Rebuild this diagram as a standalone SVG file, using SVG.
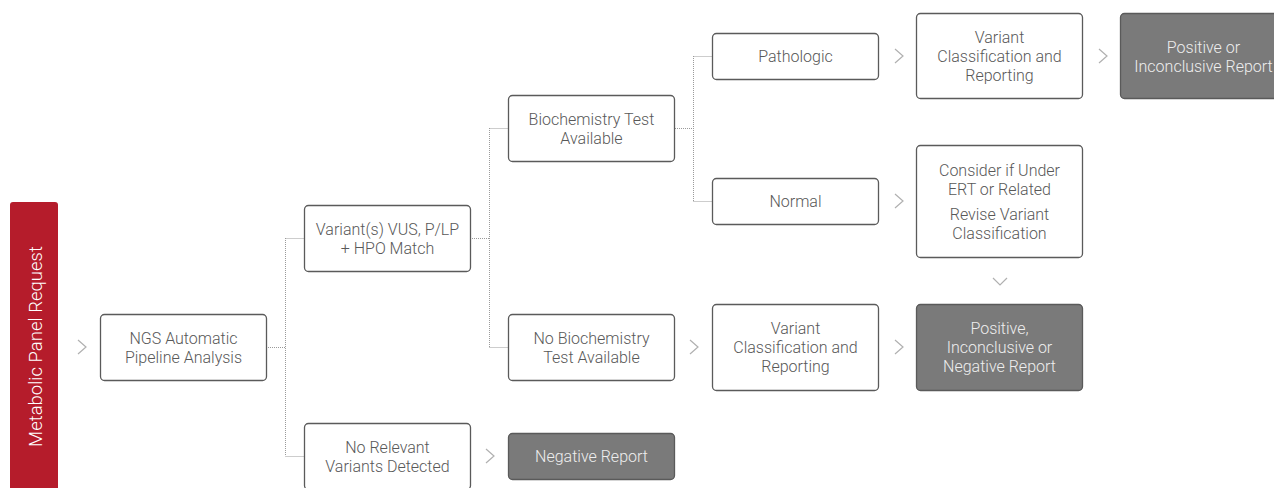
<svg xmlns="http://www.w3.org/2000/svg" width="1274" height="488" viewBox="0 0 1274 488">
<style>
.box{fill:#fff;stroke:#5a5a5a;stroke-width:1.3}
.dark{fill:#7a7a7a;stroke:#5a5a5a;stroke-width:1.3}
.t{font-family:Roboto,"Liberation Sans",sans-serif;font-weight:300;font-size:16px;fill:#585858;text-anchor:middle}
.tl{font-family:Roboto,"Liberation Sans",sans-serif;font-weight:300;font-size:16px;fill:#eee;text-anchor:middle}
.conn{fill:none;stroke:#9a9a9a;stroke-width:1;stroke-dasharray:1 1}
.chev{fill:none;stroke:#b0b0b0;stroke-width:1.2}
</style>
<rect width="1274" height="488" fill="#fff"/>
<g id="request">
<path d="M10 488 V205 a3 3 0 0 1 3 -3 H55 a3 3 0 0 1 3 3 V488 Z" fill="#b51c2b"/>
<text transform="translate(41.5 346.5) rotate(-90)" style="font-family:Roboto,'Liberation Sans',sans-serif;font-weight:300;font-size:18.5px;fill:#fff;text-anchor:middle">Metabolic Panel Request</text>
</g>
<g id="connectors">
<path class="conn" d="M266 347.5 H285.5 M285.5 238 V456 M285.5 238.5 H305 M285.5 456.5 H305"/>
<path class="conn" d="M470 238.5 H489.5 M489.5 128 V347 M489.5 128.5 H509 M489.5 347.5 H509"/>
<path class="conn" d="M675 128.5 H693.5 M693.5 56 V201 M693.5 56.5 H713 M693.5 201.5 H713"/>
<polyline class="chev" points="78,340 86,347 78,354"/>
<polyline class="chev" points="895,49 903,56 895,63"/>
<polyline class="chev" points="1099,49 1107,56 1099,63"/>
<polyline class="chev" points="895,194 903,201 895,208"/>
<polyline class="chev" points="993,278 1000,285 1007,278"/>
<polyline class="chev" points="690,340 698,347 690,354"/>
<polyline class="chev" points="895,340 903,347 895,354"/>
<polyline class="chev" points="486,449 494,456 486,463"/>
</g>
<g id="ngs">
<rect class="box" x="100.5" y="314.5" width="166" height="66" rx="4"/>
<text class="t" x="183.5" y="343.5">NGS Automatic</text>
<text class="t" x="183.5" y="362.5">Pipeline Analysis</text>
</g>
<g id="variants">
<rect class="box" x="304.5" y="205.5" width="166" height="66" rx="4"/>
<text class="t" x="387.5" y="234.5">Variant(s) VUS, P/LP</text>
<text class="t" x="387.5" y="253.5">+ HPO Match</text>
</g>
<g id="norelevant">
<rect class="box" x="304.5" y="423.5" width="166" height="66" rx="4"/>
<text class="t" x="387.5" y="452.5">No Relevant</text>
<text class="t" x="387.5" y="471.5">Variants Detected</text>
</g>
<g id="negative">
<rect class="dark" x="508.5" y="433.5" width="166" height="46" rx="4"/>
<text class="tl" x="591.5" y="462">Negative Report</text>
</g>
<g id="biochem">
<rect class="box" x="508.5" y="95.5" width="166" height="66" rx="4"/>
<text class="t" x="591.5" y="124.5">Biochemistry Test</text>
<text class="t" x="591.5" y="143.5">Available</text>
</g>
<g id="nobiochem">
<rect class="box" x="508.5" y="314.5" width="166" height="66" rx="4"/>
<text class="t" x="591.5" y="343.5">No Biochemistry</text>
<text class="t" x="591.5" y="362.5">Test Available</text>
</g>
<g id="pathologic">
<rect class="box" x="712.5" y="33.5" width="166" height="46" rx="4"/>
<text class="t" x="795.5" y="62">Pathologic</text>
</g>
<g id="normal">
<rect class="box" x="712.5" y="178.5" width="166" height="46" rx="4"/>
<text class="t" x="795.5" y="207">Normal</text>
</g>
<g id="vcr2">
<rect class="box" x="712.5" y="304.5" width="166" height="86" rx="4"/>
<text class="t" x="795.5" y="333.5">Variant</text>
<text class="t" x="795.5" y="352.5">Classification and</text>
<text class="t" x="795.5" y="371.5">Reporting</text>
</g>
<g id="vcr1">
<rect class="box" x="916.5" y="13.5" width="166" height="85" rx="4"/>
<text class="t" x="999.5" y="42.5">Variant</text>
<text class="t" x="999.5" y="61.5">Classification and</text>
<text class="t" x="999.5" y="80.5">Reporting</text>
</g>
<g id="consider">
<rect class="box" x="916.5" y="145.5" width="166" height="112" rx="4"/>
<text class="t" x="999.5" y="175.5">Consider if Under</text>
<text class="t" x="999.5" y="194.5">ERT or Related</text>
<text class="t" x="999.5" y="219.5">Revise Variant</text>
<text class="t" x="999.5" y="238.5">Classification</text>
</g>
<g id="posneg">
<rect class="dark" x="916.5" y="304.5" width="166" height="86" rx="4"/>
<text class="tl" x="999.5" y="333.5">Positive,</text>
<text class="tl" x="999.5" y="352.5">Inconclusive or</text>
<text class="tl" x="999.5" y="371.5">Negative Report</text>
</g>
<g id="posinc">
<rect class="dark" x="1120.5" y="13.5" width="166" height="85" rx="4"/>
<text class="tl" x="1203.5" y="52.5">Positive or</text>
<text class="tl" x="1203.5" y="71.5">Inconclusive Report</text>
</g>
</svg>
